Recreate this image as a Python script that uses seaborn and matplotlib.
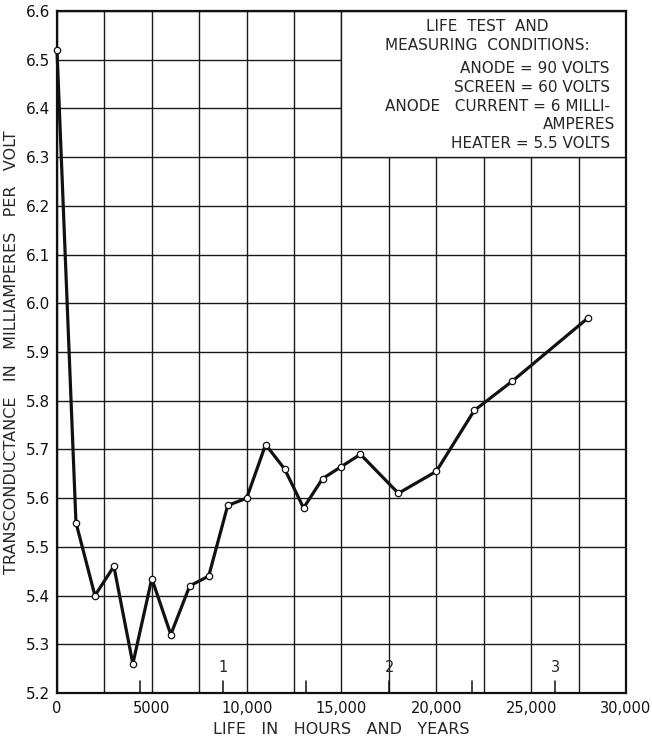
import matplotlib
matplotlib.use("Agg")
import matplotlib.pyplot as plt
from matplotlib.patches import Rectangle
from matplotlib.ticker import MultipleLocator, FuncFormatter
import seaborn as sns
import pandas as pd

# Life test readings
hours = [0, 1000, 2000, 3000, 4000, 5000, 6000, 7000, 8000, 9000, 10000,
         11000, 12000, 13000, 14000, 15000, 16000, 18000, 20000, 22000,
         24000, 28000]
transconductance = [6.52, 5.55, 5.40, 5.46, 5.26, 5.435, 5.32, 5.42, 5.44,
                    5.585, 5.60, 5.71, 5.66, 5.58, 5.64, 5.665, 5.69, 5.61,
                    5.655, 5.78, 5.84, 5.97]

year_marks = [0.5, 1, 1.5, 2, 2.5, 3]
year_labels = ["1", "2", "3"]
hours_per_year = 8760

conditions_title = ["LIFE  TEST  AND", "MEASURING  CONDITIONS:"]
conditions = ["ANODE = 90 VOLTS", "SCREEN = 60 VOLTS",
              "ANODE   CURRENT = 6 MILLI-", "AMPERES", "HEATER = 5.5 VOLTS"]

df = pd.DataFrame({"hours": hours, "gm": transconductance})

sns.set_style("white")
plt.rcParams["font.family"] = ["DejaVu Sans"]

fig = plt.figure(figsize=(6.52, 7.36), dpi=100)
ax = fig.add_axes([0.0874, 0.0584, 0.8727, 0.9266])

ax.set_xlim(0, 30000)
ax.set_ylim(5.2, 6.6)
ax.xaxis.set_major_locator(MultipleLocator(5000))
ax.xaxis.set_minor_locator(MultipleLocator(2500))
ax.yaxis.set_major_locator(MultipleLocator(0.1))
ax.xaxis.set_major_formatter(FuncFormatter(
    lambda v, p: "0" if v == 0 else ("5000" if v == 5000 else f"{int(v):,}")))
ax.yaxis.set_major_formatter(FuncFormatter(lambda v, p: f"{v:.1f}"))
ax.tick_params(axis="both", which="both", length=0, colors="#111111")
ax.tick_params(axis="x", labelsize=10.5, pad=6)
ax.tick_params(axis="y", labelsize=11, pad=5)
ax.set_axisbelow(True)
ax.grid(True, which="both", color="#1a1a1a", linewidth=1.0)

for s in ax.spines.values():
    s.set_linewidth(1.6)
    s.set_color("#111111")

# conditions panel
ax.add_patch(Rectangle((15000, 6.3), 15000, 0.3, facecolor="white",
                       edgecolor="#1a1a1a", linewidth=1.0, zorder=1))
ax.text(22670, 6.569, conditions_title[0], ha="center", va="center",
        fontsize=11, zorder=4)
ax.text(22670, 6.530, conditions_title[1], ha="center", va="center",
        fontsize=11, zorder=4)
cond_y = [6.483, 6.444, 6.405, 6.368, 6.329]
cond_x = [29150, 29150, 29150, 29420, 29150]
for t, xx, yy in zip(conditions, cond_x, cond_y):
    ax.text(xx, yy, t, ha="right", va="center", fontsize=11, zorder=4)

# half-year marks along the bottom
for ym in year_marks:
    ax.plot([ym * hours_per_year] * 2, [5.2, 5.225], color="#111111",
            linewidth=1.1, zorder=2)
for i, lab in enumerate(year_labels, start=1):
    ax.text(i * hours_per_year, 5.253, lab, ha="center", va="center",
            fontsize=10.5, zorder=4)

sns.lineplot(data=df, x="hours", y="gm", ax=ax, color="#111111",
             linewidth=2.3, marker="o", markersize=4.6,
             markerfacecolor="white", markeredgecolor="#111111",
             markeredgewidth=0.9, zorder=3, clip_on=False)

ax.set_xlabel("LIFE   IN   HOURS   AND   YEARS", fontsize=11.5)
ax.set_ylabel("TRANSCONDUCTANCE   IN   MILLIAMPERES   PER   VOLT",
              fontsize=11.5)
ax.xaxis.set_label_coords(0.5, -0.042)
ax.yaxis.set_label_coords(-0.066, 0.5)

fig.savefig("out.png", dpi=100)
